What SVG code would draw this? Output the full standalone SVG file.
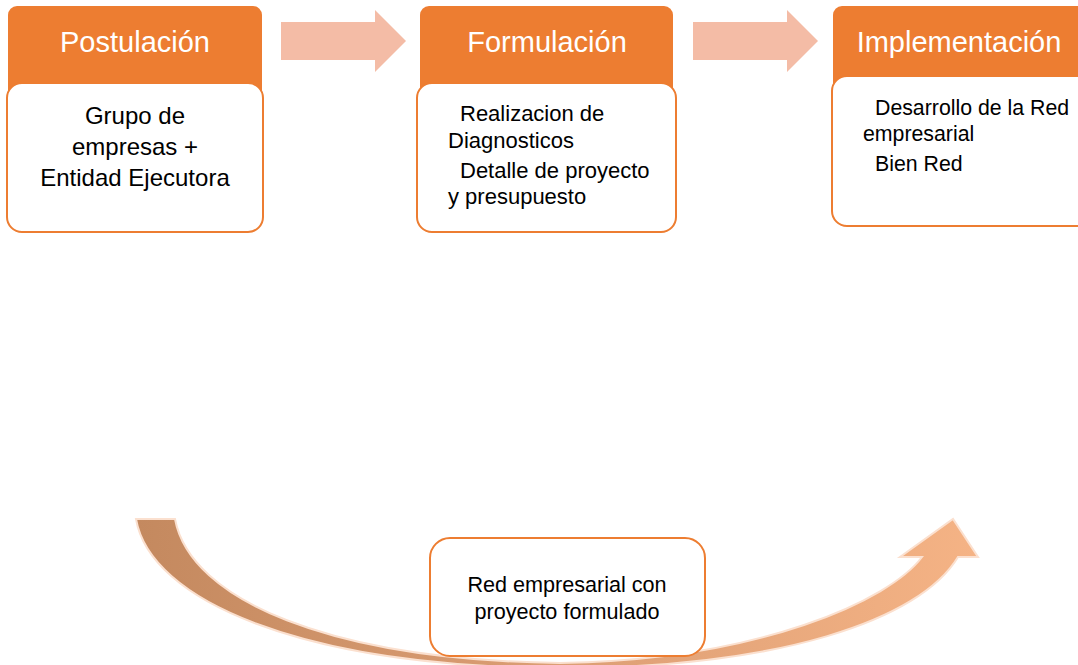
<svg xmlns="http://www.w3.org/2000/svg" width="1078" height="665" viewBox="0 0 1078 665">
<style>
.hdr{fill:#ED7D31}
.body{fill:#FFFFFF;stroke:#ED7D31;stroke-width:2}
.ht{font-family:"Liberation Sans",Arial,sans-serif;font-size:29px;fill:#FFFFFF;text-anchor:middle}
.bt{font-family:"Liberation Sans",Arial,sans-serif;fill:#000000}
.bc{text-anchor:middle}
.arr{fill:#F4BCA6}
</style>
<defs>
<linearGradient id="g" x1="136" y1="0" x2="978" y2="0" gradientUnits="userSpaceOnUse">
<stop offset="0" stop-color="#C4895F"/>
<stop offset="0.5" stop-color="#DC9E74"/>
<stop offset="1" stop-color="#F5B385"/>
</linearGradient>
</defs>
<rect width="1078" height="665" fill="#FFFFFF"/>
<g id="connectors">
<polygon class="arr" points="281,22 375,22 375,10 406,41 375,72 375,60 281,60"/>
<polygon class="arr" points="693,22 787,22 787,10 818,41 787,72 787,60 693,60"/>
<path d="M136,519 C150,600 300,667 560,668 C780,668 920,620 958,557 L978,557 L953,519 L900,557 L922,557 C890,600 760,660 560,663 C330,660 190,600 175,519 Z" fill="url(#g)" stroke="#FBE0CF" stroke-width="2" stroke-linejoin="miter"/>
</g>
<g id="postulacion">
<rect class="hdr" x="8" y="6" width="254" height="110" rx="9"/>
<rect class="body" x="7" y="83" width="256" height="149" rx="15"/>
<text class="ht" x="135" y="52">Postulación</text>
<text class="bt bc" style="font-size:24px"><tspan x="135" y="124">Grupo de</tspan><tspan x="135" y="155">empresas +</tspan><tspan x="135" y="186">Entidad Ejecutora</tspan></text>
</g>
<g id="formulacion">
<rect class="hdr" x="420" y="6" width="253" height="110" rx="9"/>
<rect class="body" x="417" y="83" width="259" height="149" rx="15"/>
<text class="ht" x="547" y="52">Formulación</text>
<text class="bt" style="font-size:22px"><tspan x="460" y="121">Realizacion de</tspan><tspan x="448" y="148">Diagnosticos</tspan><tspan x="460" y="178">Detalle de proyecto</tspan><tspan x="448" y="204">y presupuesto</tspan></text>
</g>
<g id="implementacion">
<rect class="hdr" x="833" y="6" width="260" height="110" rx="9"/>
<rect class="body" x="832" y="76" width="260" height="150" rx="15"/>
<text class="ht" x="959" y="52">Implementación</text>
<text class="bt" style="font-size:21.3px"><tspan x="875" y="115">Desarrollo de la Red</tspan><tspan x="863" y="141">empresarial</tspan><tspan x="875" y="171">Bien Red</tspan></text>
</g>
<g id="red-empresarial">
<rect class="body" x="430" y="538" width="275" height="118" rx="20"/>
<text class="bt bc" style="font-size:21.6px"><tspan x="567" y="592">Red empresarial con</tspan><tspan x="567" y="619">proyecto formulado</tspan></text>
</g>
</svg>
